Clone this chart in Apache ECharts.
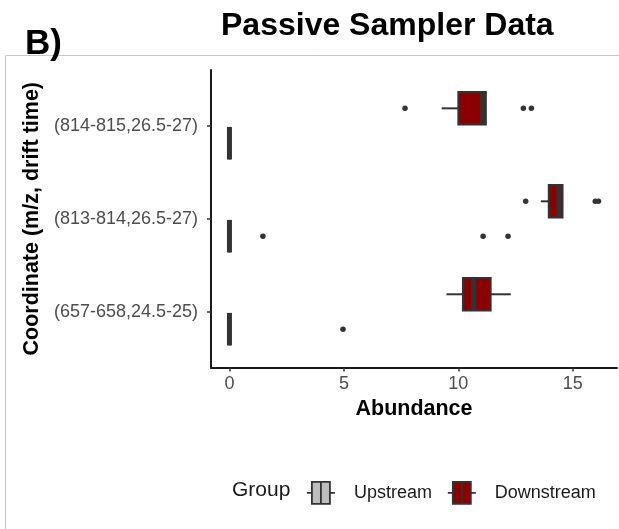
<!DOCTYPE html>
<html>
<head>
<meta charset="utf-8">
<script src="https://cdn.jsdelivr.net/npm/echarts@6/dist/echarts.min.js"></script>
<style>
html,body{margin:0;padding:0;background:#fff;}
#chart{width:619px;height:529px;}
</style>
</head>
<body>
<div id="chart"></div>
<script>
// Categories, bottom to top
const categories = ['(657-658,24.5-25)', '(813-814,26.5-27)', '(814-815,26.5-27)'];
const groups = ['Upstream', 'Downstream'];
const xTicks = [0, 5, 10, 15];

// Box stats per category: [lower whisker, Q1, median, Q3, upper whisker]
const upstreamBox = [
  [0, 0, 0, 0, 0],
  [0, 0, 0, 0, 0],
  [0, 0, 0, 0, 0]
];
const downstreamBox = [
  [9.48, 10.2, 10.66, 11.41, 12.29],
  [13.6, 13.95, 14.38, 14.55, 14.55],
  [9.27, 10.0, 11.05, 11.2, 11.2]
];
// Outliers: [category index, value]
const upstreamOutliers = [[0, 4.96], [1, 1.46], [1, 11.08], [1, 12.17]];
const downstreamOutliers = [[1, 12.94], [1, 15.98], [1, 16.12], [2, 7.67], [2, 12.84], [2, 13.19]];

const colors = { Upstream: '#bebebe', Downstream: '#8b0000' };
const DODGE = 0.1875;
const BOX_H = 0.35;
const STROKE = '#333333';

function makeRender(offset, fill) {
  return function (params, api) {
    const yv = api.value(0) + 1 + offset;
    const lo = api.coord([api.value(1), yv]);
    const q1 = api.coord([api.value(2), yv]);
    const md = api.coord([api.value(3), yv]);
    const q3 = api.coord([api.value(4), yv]);
    const hi = api.coord([api.value(5), yv]);
    const h = Math.abs(api.size([0, BOX_H])[1]);
    const y = q1[1];
    return {
      type: 'group',
      children: [
        { type: 'line', shape: { x1: lo[0], y1: y, x2: q1[0], y2: y }, style: { stroke: STROKE, lineWidth: 2 } },
        { type: 'line', shape: { x1: q3[0], y1: y, x2: hi[0], y2: y }, style: { stroke: STROKE, lineWidth: 2 } },
        { type: 'rect', shape: { x: q1[0], y: y - h / 2, width: q3[0] - q1[0], height: h }, style: { fill: fill, stroke: STROKE, lineWidth: 2 } },
        { type: 'line', shape: { x1: md[0], y1: y - h / 2, x2: md[0], y2: y + h / 2 }, style: { stroke: STROKE, lineWidth: 5 } }
      ]
    };
  };
}

function boxData(arr) {
  return arr.map((s, i) => [i].concat(s));
}
function outlierData(arr, offset) {
  return arr.map(o => [o[1], o[0] + 1 + offset]);
}

const legendIcon = 'path://M5,0 L23,0 L23,22 L5,22 Z M0,11 L5,11 M23,11 L28,11 M14,0 L14,22';

const chart = echarts.init(document.getElementById('chart'), null, { renderer: 'canvas' });
chart.setOption({
  backgroundColor: '#ffffff',
  animation: false,
  title: [
    { text: 'Passive Sampler Data', left: 221, top: 10, padding: 0,
      textStyle: { fontFamily: 'Liberation Sans', fontWeight: 'bold', fontSize: 32, color: '#000' } },
    { text: 'B)', left: 25, top: 27, padding: 0,
      textStyle: { fontFamily: 'Liberation Sans', fontWeight: 'bold', fontSize: 35, color: '#000' } },
    { text: 'Group', left: 232, top: 480, padding: 0,
      textStyle: { fontFamily: 'Liberation Sans', fontWeight: 'normal', fontSize: 21, color: '#1a1a1a' } }
  ],
  graphic: [
    { type: 'rect', z: -10, silent: true, shape: { x: 5.5, y: 55.5, width: 700, height: 600 },
      style: { fill: 'none', stroke: '#c8c8c8', lineWidth: 1 } }
  ],
  legend: {
    left: 306, top: 481, padding: 0,
    itemWidth: 28, itemHeight: 22, itemGap: 15,
    textStyle: { fontFamily: 'Liberation Sans', fontSize: 18, color: '#1a1a1a', padding: [0, 0, 0, 14] },
    data: groups.map(g => ({ name: g, icon: legendIcon,
      itemStyle: { color: colors[g], borderColor: STROKE, borderWidth: 1.8 } }))
  },
  grid: { left: 211, right: 2, top: 70, bottom: 161.5, containLabel: false },
  xAxis: {
    type: 'value', min: -0.806, max: 16.93,
    name: 'Abundance', nameLocation: 'middle', nameGap: 31,
    nameTextStyle: { fontFamily: 'Liberation Sans', fontWeight: 'bold', fontSize: 21.5, color: '#000' },
    axisLine: { show: true, onZero: false, lineStyle: { color: '#1a1a1a', width: 2 } },
    axisTick: { show: true, length: 4, customValues: xTicks, lineStyle: { color: '#333', width: 1.5 } },
    axisLabel: { customValues: xTicks, margin: 8, fontFamily: 'Liberation Sans', fontSize: 18, color: '#4d4d4d' },
    splitLine: { show: false }
  },
  yAxis: {
    type: 'value', min: 0.4, max: 3.6,
    name: 'Coordinate (m/z, drift time)', nameLocation: 'middle', nameGap: 167,
    nameTextStyle: { fontFamily: 'Liberation Sans', fontWeight: 'bold', fontSize: 21.5, color: '#000' },
    axisLine: { show: true, onZero: false, lineStyle: { color: '#1a1a1a', width: 2 } },
    axisTick: { show: true, length: 4, customValues: [1, 2, 3], lineStyle: { color: '#333', width: 1.5 } },
    axisLabel: { customValues: [1, 2, 3], margin: 13, fontFamily: 'Liberation Sans', fontSize: 18, color: '#4d4d4d',
      formatter: v => categories[Math.round(v) - 1] },
    splitLine: { show: false }
  },
  series: [
    { name: 'Upstream', type: 'custom', renderItem: makeRender(-DODGE, colors.Upstream),
      itemStyle: { color: colors.Upstream },
      encode: { x: [1, 2, 3, 4, 5], y: 0 }, data: boxData(upstreamBox), z: 3 },
    { name: 'Downstream', type: 'custom', renderItem: makeRender(DODGE, colors.Downstream),
      itemStyle: { color: colors.Downstream },
      encode: { x: [1, 2, 3, 4, 5], y: 0 }, data: boxData(downstreamBox), z: 3 },
    { name: 'Upstream', type: 'scatter', symbolSize: 5.5, itemStyle: { color: STROKE, opacity: 1 },
      data: outlierData(upstreamOutliers, -DODGE), z: 4 },
    { name: 'Downstream', type: 'scatter', symbolSize: 5.5, itemStyle: { color: STROKE, opacity: 1 },
      data: outlierData(downstreamOutliers, DODGE), z: 4 }
  ]
});
</script>
</body>
</html>
